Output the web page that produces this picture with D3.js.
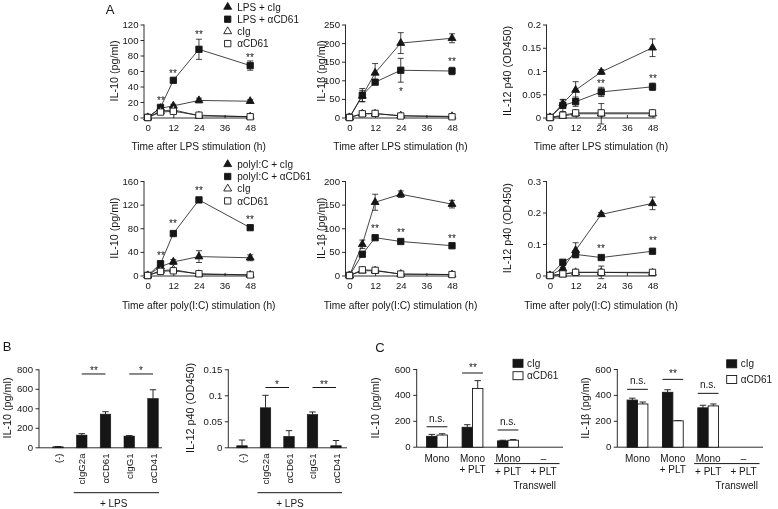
<!DOCTYPE html>
<html><head><meta charset="utf-8">
<script src="https://cdn.jsdelivr.net/npm/d3@7"></script>
<style>body{margin:0;background:#fff} svg{filter:grayscale(1)}</style>
</head><body><svg id="c" width="778" height="509"></svg>
<script>
// ---------------- DATA ----------------
const times = [0, 6, 12, 24, 48];
const timeTicks = [0, 12, 24, 36, 48];
const lpsSeries = ["LPS + cIg", "LPS + αCD61", "cIg", "αCD61"];
const picSeries = ["polyI:C + cIg", "polyI:C + αCD61", "cIg", "αCD61"];

const lpsIL10 = [[0,12,15,22,21],[0,13,48,88,67],[0,8,10,2,1],[0,7,8,3,1]];
const lpsIL10Err = [[0,2,2,3,2],[0,2,2,13,6],[0,1,1,1,1],[0,1,1,1,1]];
const lpsIL10Stars = [[6,24,"**"],[12,60,"**"],[24,110,"**"],[48,80,"**"]];
const lpsIL10Ticks = [0,20,40,60,80,100,120];

const lpsIL1b = [[0,58,120,200,213],[0,60,95,127,125],[0,10,10,5,3],[0,10,11,4,2]];
const lpsIL1bErr = [[0,15,25,28,12],[0,18,5,32,10],[0,2,2,2,1],[0,2,2,2,1]];
const lpsIL1bStars = [[24,75,"*"],[48,156,"**"]];
const lpsIL1bTicks = [0,50,100,150,200,250];

const lpsIL12 = [[0,0.03,0.059,0.098,0.15],[0,0.026,0.034,0.055,0.066],[0,0.003,0.008,0.008,0.008],[0,0.005,0.01,0.01,0.01]];
const lpsIL12Err = [[0,0.008,0.018,0.005,0.019],[0,0.013,0.01,0.01,0.008],[0,0.002,0.003,0.022,0.002],[0,0.002,0.002,0.004,0.002]];
const lpsIL12Stars = [[24,0.078,"**"],[48,0.089,"**"]];
const lpsIL12Ticks = [0,0.05,0.1,0.15,0.2];

const picIL10 = [[0,15,23,32,30],[0,20,71,128,81],[0,8,10,2,1],[0,7,8,3,1]];
const picIL10Err = [[0,2,4,10,5],[0,2,3,4,3],[0,1,1,1,1],[0,1,1,1,1]];
const picIL10Stars = [[6,37,"**"],[12,91,"**"],[24,147,"**"],[48,98,"**"]];
const picIL10Ticks = [0,40,80,120,160];

const picIL1b = [[0,66,155,172,151],[0,45,80,72,63],[0,10,10,3,2],[0,12,11,3,2]];
const picIL1bErr = [[0,9,17,7,8],[0,4,4,3,3],[0,1,1,1,1],[0,1,1,1,1]];
const picIL1bStars = [[12,103,"**"],[24,95,"**"],[48,83,"**"]];
const picIL1bTicks = [0,50,100,150,200];

const picIL12 = [[0,0.022,0.08,0.194,0.229],[0,0.042,0.067,0.057,0.077],[0,0.003,0.01,0.01,0.008],[0,0.005,0.01,0.01,0.01]];
const picIL12Err = [[0,0.004,0.024,0.006,0.02],[0,0.004,0.004,0.004,0.004],[0,0.002,0.002,0.02,0.002],[0,0.002,0.002,0.004,0.002]];
const picIL12Stars = [[24,0.093,"**"],[48,0.116,"**"]];
const picIL12Ticks = [0,0.1,0.2,0.3];

// Panel B
const bCats = ["(-)", "cIgG2a", "αCD61", "cIgG1", "αCD41"];
const bIL10 = [5, 125, 340, 115, 500];
const bIL10Err = [3, 15, 25, 5, 90];
const bIL10Sig = [["cIgG2a","αCD61",752,"**"],["cIgG1","αCD41",752,"*"]];
const bIL10Ticks = [0,200,400,600,800];
const bIL12 = [0.003, 0.076, 0.021, 0.063, 0.003];
const bIL12Err = [0.011, 0.024, 0.011, 0.005, 0.010];
const bIL12Sig = [["cIgG2a","αCD61",0.115,"*"],["cIgG1","αCD41",0.115,"**"]];
const bIL12Ticks = [0,0.05,0.1,0.15];

// Panel C
const cGroups = ["Mono", "Mono+PLT", "Transwell Mono+PLT", "Transwell PLT"];
const cSeries = ["cIg", "αCD61"];
const cIL10 = [[80,150,45,0],[90,450,50,0]];
const cIL10Err = [[15,20,5,0],[10,60,5,0]];
const cIL10Sig = [["Mono",154,"n.s."],["Mono+PLT",569,"**"],["Transwell Mono+PLT",129,"n.s."]];
const cIL1b = [[360,420,300,0],[330,200,315,0]];
const cIL1bErr = [[15,20,20,0],[15,2,15,0]];
const cIL1bSig = [["Mono",443,"n.s."],["Mono+PLT",520,"**"],["Transwell Mono+PLT",412,"n.s."]];
const cTicks = [0,200,400,600];

// ---------------- DRAW ----------------
const svg = d3.select("#c");
const FONT = "'Liberation Sans', Arial, Helvetica, sans-serif";
const ink = "#161616";
svg.append("rect").attr("width",778).attr("height",509).attr("fill","#fff");
const fmt = d3.format("~g");
const TFS = 9.6;

function txt(g, x, y, s, fs, anchor){
  return g.append("text").attr("x",x).attr("y",y).attr("font-family",FONT)
    .attr("font-size",fs).attr("fill",ink).attr("text-anchor",anchor||"middle").text(s);
}
function styleAxis(a, fs){
  a.attr("font-family",FONT).attr("font-size",fs);
  a.selectAll("line").attr("stroke",ink).attr("stroke-width",0.9);
  a.selectAll("text").attr("fill",ink);
  a.select(".domain").remove();
}
function hline(g,x1,x2,y,w){g.append("line").attr("x1",x1).attr("x2",x2).attr("y1",y).attr("y2",y).attr("stroke",ink).attr("stroke-width",w||0.9);}
function vline(g,x,y1,y2,w){g.append("line").attr("x1",x).attr("x2",x).attr("y1",y1).attr("y2",y2).attr("stroke",ink).attr("stroke-width",w||0.9);}
function ylab(g, cx, cy, s, fs){
  g.append("text").attr("transform",`translate(${cx+3.5},${cy}) rotate(-90)`)
   .attr("font-family",FONT).attr("font-size",fs).attr("fill",ink).attr("text-anchor","middle").text(s);
}

const symDefs = [
  {type:d3.symbolTriangle, size:27, fill:ink},
  {type:d3.symbolSquare, size:40, fill:ink},
  {type:d3.symbolTriangle, size:27, fill:"#fff"},
  {type:d3.symbolSquare, size:40, fill:"#fff"}
];

function linePanel(o){
  const g = svg.append("g");
  const x = d3.scaleLinear().domain([0,48]).range([o.x0, o.x0+102.5]);
  const y = d3.scaleLinear().domain([0,o.ymax]).range([o.yb, o.yt]);
  const ya = g.append("g").attr("transform",`translate(${o.ax},0)`)
    .call(d3.axisLeft(y).tickValues(o.ticks).tickSize(3.5).tickPadding(2).tickFormat(fmt));
  styleAxis(ya, TFS);
  vline(g, o.ax, o.yt, o.yb+0.5);
  const xa = g.append("g").attr("transform",`translate(0,${o.yb+0.5})`)
    .call(d3.axisBottom(x).tickValues(timeTicks).tickSizeInner(-3).tickSizeOuter(0).tickPadding(6.5));
  styleAxis(xa, TFS);
  hline(g, o.ax, x(49.5), o.yb+0.5);
  const line = d3.line().x((d,i)=>x(times[i])).y(d=>y(d));
  o.vals.forEach(vs=>{
    g.append("path").datum(vs).attr("d",line).attr("fill","none").attr("stroke",ink).attr("stroke-width",0.8);
  });
  o.vals.forEach((vs,si)=>{
    vs.forEach((v,i)=>{
      const e = o.errs[si][i]; if(!e) return;
      const cx = x(times[i]);
      vline(g, cx, y(v-e), y(v+e), 0.8);
      hline(g, cx-3, cx+3, y(v+e), 0.8);
      hline(g, cx-3, cx+3, y(v-e), 0.8);
    });
  });
  o.vals.forEach((vs,si)=>{
    const sd = symDefs[si];
    g.selectAll(null).data(vs).enter().append("path")
      .attr("d", d3.symbol().type(sd.type).size(sd.size))
      .attr("transform",(d,i)=>`translate(${x(times[i])},${y(d)})`)
      .attr("fill", sd.fill).attr("stroke", ink).attr("stroke-width", 0.9);
  });
  o.stars.forEach(([t,v,l])=>{ txt(g, Math.round(x(t)), Math.round(y(v)+5.5), l, 10); });
  ylab(g, o.ylx, (o.yt+o.yb)/2, o.ylabel, 10.8);
  txt(g, o.x0+51, o.xly, o.xlabel, 10.2);
  if(o.legend){
    o.legend.forEach((name,i)=>{
      const ly = o.legY + i*12.2;
      const sd = symDefs[i];
      g.append("path").attr("d", d3.symbol().type(sd.type).size(sd.size)).attr("transform",`translate(227.7,${ly})`)
        .attr("fill",sd.fill).attr("stroke",ink).attr("stroke-width",0.9);
      txt(g, 237.3, ly+3.6, name, 10, "start");
    });
  }
}

const r1 = {yt:24.5, yb:117.5, xly:149.5};
const r2 = {yt:181, yb:275.5, xly:309.3};
const cols = [{x0:147.7, ax:144, ylx:114},{x0:349.5, ax:345.5, ylx:321},{x0:550, ax:546.5, ylx:507}];

linePanel({...r1,...cols[0], ymax:120, ticks:lpsIL10Ticks, vals:lpsIL10, errs:lpsIL10Err, stars:lpsIL10Stars, ylabel:"IL-10 (pg/ml)", xlabel:"Time after LPS stimulation (h)", legend:lpsSeries, legY:7});
linePanel({...r1,...cols[1], ymax:250, ticks:lpsIL1bTicks, vals:lpsIL1b, errs:lpsIL1bErr, stars:lpsIL1bStars, ylabel:"IL-1β (pg/ml)", xlabel:"Time after LPS stimulation (h)"});
linePanel({...r1,...cols[2], ymax:0.2, ticks:lpsIL12Ticks, vals:lpsIL12, errs:lpsIL12Err, stars:lpsIL12Stars, ylabel:"IL-12 p40 (OD450)", xlabel:"Time after LPS stimulation (h)"});
linePanel({...r2,...cols[0], ymax:160, ticks:picIL10Ticks, vals:picIL10, errs:picIL10Err, stars:picIL10Stars, ylabel:"IL-10 (pg/ml)", xlabel:"Time after poly(I:C) stimulation (h)", legend:picSeries, legY:164.3});
linePanel({...r2,...cols[1], ymax:200, ticks:picIL1bTicks, vals:picIL1b, errs:picIL1bErr, stars:picIL1bStars, ylabel:"IL-1β (pg/ml)", xlabel:"Time after poly(I:C) stimulation (h)"});
linePanel({...r2,...cols[2], ymax:0.3, ticks:picIL12Ticks, vals:picIL12, errs:picIL12Err, stars:picIL12Stars, ylabel:"IL-12 p40 (OD450)", xlabel:"Time after poly(I:C) stimulation (h)"});

txt(svg, 110, 14, "A", 13);
txt(svg, 7, 351, "B", 13);
txt(svg, 380, 352, "C", 13);

// ---- Panel B ----
function barB(o){
  const g = svg.append("g");
  const x = d3.scalePoint().domain(bCats).range(o.xr);
  const y = d3.scaleLinear().domain([0,o.ymax]).range([447.3, 369.3]);
  const ya = g.append("g").attr("transform",`translate(${o.ax},0)`)
    .call(d3.axisLeft(y).tickValues(o.ticks).tickSize(3.5).tickPadding(2.5).tickFormat(fmt));
  styleAxis(ya, TFS);
  vline(g, o.ax, 369.3, 447.8);
  hline(g, o.ax, o.xend, 447.8);
  const bw = 10.5;
  bCats.forEach((c,i)=>{
    const v = o.vals[i], e = o.errs[i], cx = x(c);
    vline(g, cx, y(v), y(v+e), 0.9);
    hline(g, cx-3.2, cx+3.2, y(v+e), 0.9);
    g.append("rect").attr("x",cx-bw/2).attr("y",y(v)).attr("width",bw).attr("height",447.8-y(v))
      .attr("fill",ink).attr("stroke",ink).attr("stroke-width",0.6);
    g.append("text").attr("transform",`translate(${cx+3.6},453.5) rotate(-90)`)
      .attr("font-family",FONT).attr("font-size",TFS).attr("fill",ink).attr("text-anchor","end").text(c);
  });
  o.sig.forEach(([a,b,v,l])=>{
    hline(g, x(a), x(b), y(v), 1);
    txt(g, Math.round((x(a)+x(b))/2), Math.round(y(v)+0.5), l, 10);
  });
  hline(g, x("cIgG2a")-8, x("αCD41")+6, 492.7, 1);
  txt(g, o.lpsX, 506.5, "+ LPS", 10);
  ylab(g, o.ylx, 408, o.ylabel, 10.8);
}
barB({ax:39, xr:[58,153], xend:162, ymax:800, ticks:bIL10Ticks, vals:bIL10, errs:bIL10Err, sig:bIL10Sig, lpsX:113.7, ylx:7, ylabel:"IL-10 (pg/ml)"});
barB({ax:228.3, xr:[242,336], xend:347, ymax:0.15, ticks:bIL12Ticks, vals:bIL12, errs:bIL12Err, sig:bIL12Sig, lpsX:290, ylx:190.7, ylabel:"IL-12 p40 (OD450)"});

// ---- Panel C ----
function barC(o){
  const g = svg.append("g");
  const x = d3.scalePoint().domain(cGroups).range(o.xr);
  const y = d3.scaleLinear().domain([0,600]).range([446.7, 369]);
  const ya = g.append("g").attr("transform",`translate(${o.ax},0)`)
    .call(d3.axisLeft(y).tickValues(cTicks).tickSize(3.5).tickPadding(2.5).tickFormat(fmt));
  styleAxis(ya, TFS);
  vline(g, o.ax, 369, 447.2);
  hline(g, o.ax, o.xend, 447.2);
  const bw = 10.4;
  cSeries.forEach((s,si)=>{
    cGroups.forEach((grp,gi)=>{
      const v = o.vals[si][gi]; if(!v) return;
      const e = o.errs[si][gi];
      const bx = x(grp) + (si===0 ? -bw : 0);
      const cx = bx + bw/2;
      if(e){ vline(g, cx, y(v), y(v+e), 0.9); hline(g, cx-3.2, cx+3.2, y(v+e), 0.9); }
      g.append("rect").attr("x",bx).attr("y",y(v)).attr("width",bw).attr("height",447.2-y(v))
        .attr("fill", si===0 ? ink : "#fff").attr("stroke",ink).attr("stroke-width",0.9);
    });
  });
  o.sig.forEach(([grp,v,l])=>{
    hline(g, x(grp)-bw, x(grp)+bw, y(v), 1);
    txt(g, Math.round(x(grp)), Math.round(y(v) - (l==="**" ? 2.5 : 5)), l, 10);
  });
  txt(g, x("Mono"), 461.8, "Mono", 10);
  txt(g, x("Mono+PLT"), 461.8, "Mono", 10);
  txt(g, x("Mono+PLT"), 472.8, "+ PLT", 10);
  txt(g, x("Transwell Mono+PLT"), 461.8, "Mono", 10);
  txt(g, x("Transwell PLT"), 461.8, "–", 10);
  hline(g, x("Transwell Mono+PLT")-14, x("Transwell PLT")+16, 463.6, 1);
  txt(g, x("Transwell Mono+PLT"), 475.2, "+ PLT", 10);
  txt(g, x("Transwell PLT"), 475.2, "+ PLT", 10);
  txt(g, (x("Transwell Mono+PLT")+x("Transwell PLT"))/2 + o.twOff, 489.3, "Transwell", 10);
  cSeries.forEach((s,si)=>{
    const ly = o.legY + si*o.legGap;
    g.append("rect").attr("x",o.legX).attr("y",ly-4).attr("width",10).attr("height",8)
      .attr("fill", si===0 ? ink : "#fff").attr("stroke",ink).attr("stroke-width",0.9);
    txt(g, o.legX+14, ly+3.6, s, 10, "start");
  });
  ylab(g, o.ylx, 408, o.ylabel, 10.8);
}
barC({ax:416.7, xr:[437,543.5], xend:563, vals:cIL10, errs:cIL10Err, sig:cIL10Sig, twOff:9, legX:513, legY:363.3, legGap:12.4, ylx:375, ylabel:"IL-10 (pg/ml)"});
barC({ax:617.3, xr:[637.5,743.5], xend:763, vals:cIL1b, errs:cIL1bErr, sig:cIL1bSig, twOff:11, legX:726.7, legY:363.8, legGap:15.7, ylx:585, ylabel:"IL-1β (pg/ml)"});
</script>
</body></html>
